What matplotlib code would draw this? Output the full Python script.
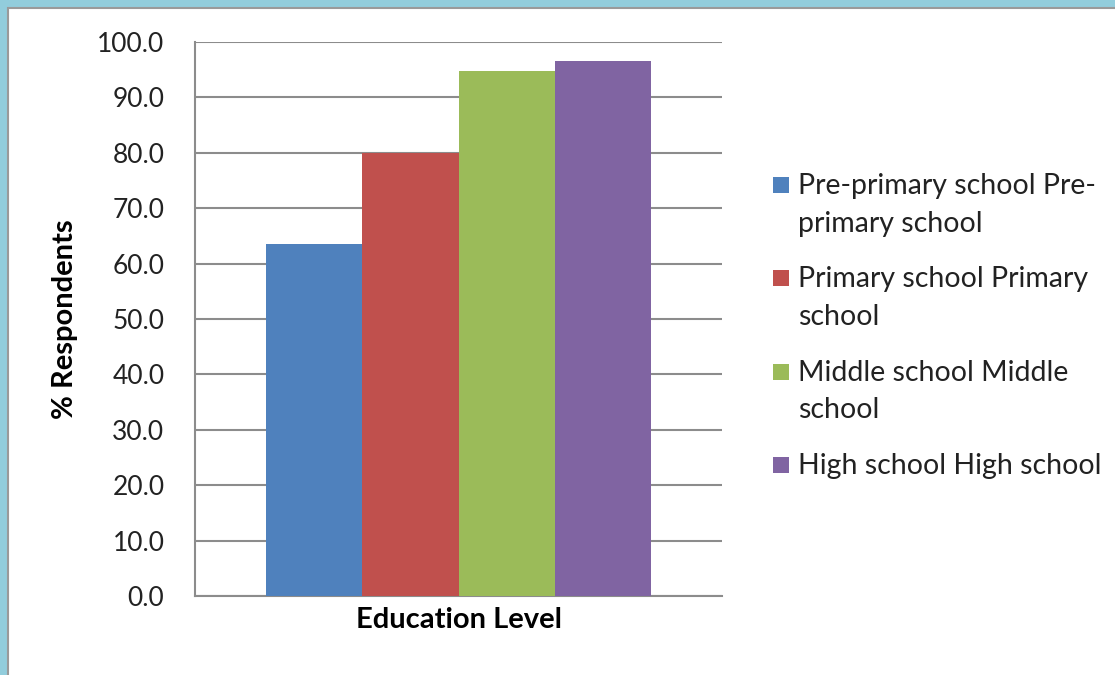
import matplotlib.pyplot as plt
from matplotlib.patches import Rectangle

categories = ["Pre-primary school Pre-\nprimary school",
              "Primary school Primary\nschool",
              "Middle school Middle\nschool",
              "High school High school"]
values = [63.6, 80.0, 94.8, 96.5]
colors = ["#4F81BD", "#C0504D", "#9BBB59", "#8064A2"]
yticks = [0, 10, 20, 30, 40, 50, 60, 70, 80, 90, 100]

plt.rcParams['font.family'] = ['Lato', 'DejaVu Sans']

fig = plt.figure(figsize=(11.15, 6.75), dpi=100)
W, H = 1115, 675

# frame around the chart, like the Excel chart area border
fig.patches.append(Rectangle((0, 0), 1, 1, transform=fig.transFigure,
                             facecolor="#92CDDC", edgecolor="none", zorder=-3))
fig.patches.append(Rectangle((8 / W, -0.01), 1.0, (H - 8) / H + 0.01, transform=fig.transFigure,
                             facecolor="white", edgecolor="#9A9A9A", lw=1.5, zorder=-2))

ax = fig.add_axes([195 / W, 1 - 596 / H, (722 - 195) / W, (596 - 42) / H])
ax.set_facecolor("none")

width = 0.1825
for i, (lab, v, c) in enumerate(zip(categories, values, colors)):
    ax.bar((i - 1.5) * width, v, width=width, color=c, label=lab, zorder=3)

ax.set_xlim(-0.5, 0.5)
ax.set_ylim(0, 100)
ax.set_yticks(yticks)
ax.set_yticklabels([f"{t:.1f}" for t in yticks], fontsize=19, color="#222222")
ax.set_xticks([])
ax.yaxis.grid(True, color="#8C8C8C", lw=1.5, zorder=0)
ax.tick_params(axis="y", length=0, pad=22)
for s in ["top", "right"]:
    ax.spines[s].set_visible(False)
for s in ["left", "bottom"]:
    ax.spines[s].set_color("#8C8C8C")
    ax.spines[s].set_linewidth(1.5)

ax.set_ylabel("% Respondents", fontsize=21, fontweight="bold", labelpad=14)
ax.set_xlabel("Education Level", fontsize=21, fontweight="bold", labelpad=8)

# legend drawn by hand so the swatch sits on the first line, like Excel
y_first, pitch = 185, 93.3
for i, (lab, c) in enumerate(zip(categories, colors)):
    yc = y_first + i * pitch
    fig.patches.append(Rectangle((773 / W, 1 - (yc + 8) / H), 16 / W, 16 / H,
                                 transform=fig.transFigure, facecolor=c, edgecolor="none"))
    fig.text(798 / W, 1 - (yc - 12) / H, lab, fontsize=20.5, color="#222222",
             va="top", ha="left", linespacing=1.55)

fig.savefig("out.png", dpi=100)
